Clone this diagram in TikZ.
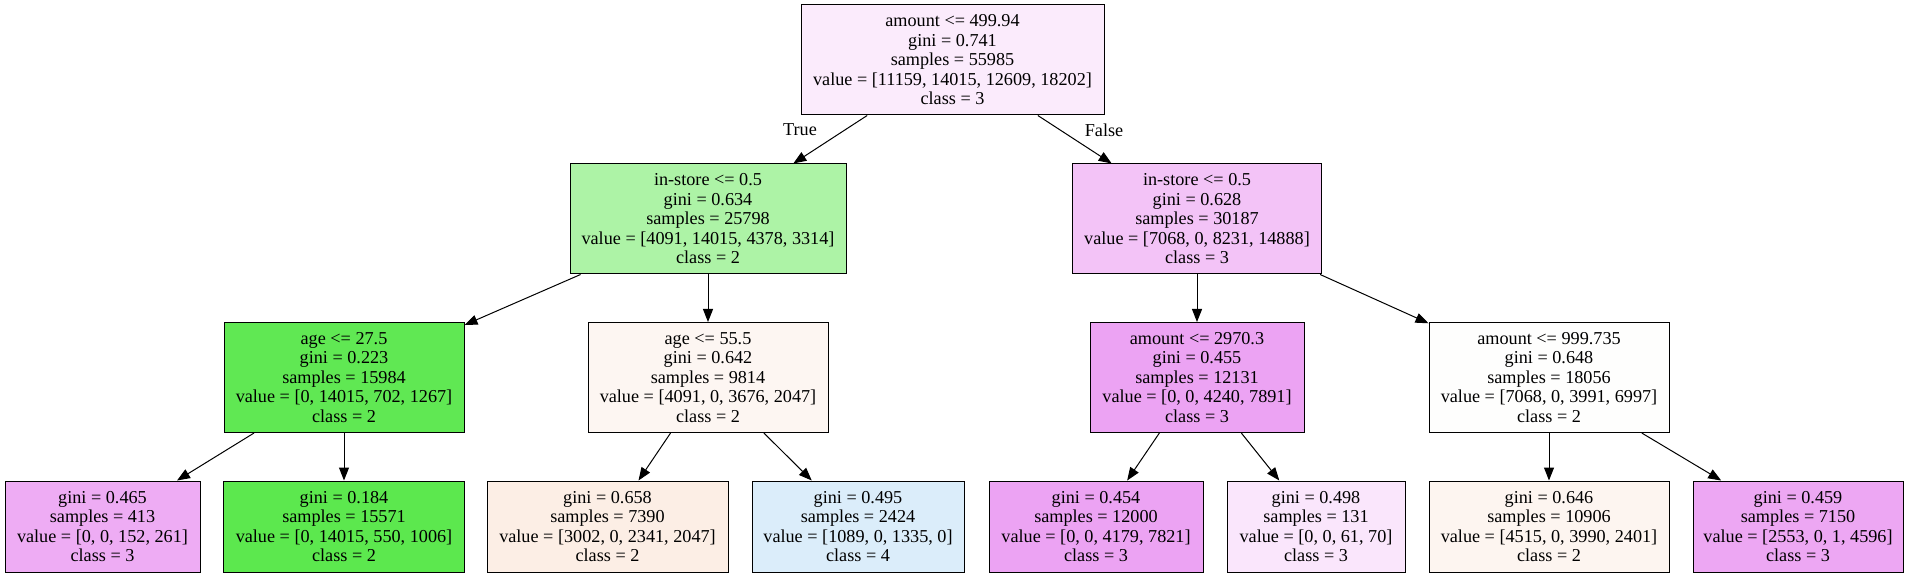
\documentclass[tikz,border=0pt]{standalone}
\usepackage{fontspec}
\setmainfont{Liberation Serif}
\usetikzlibrary{arrows.meta}
\definecolor{fillRoot}{HTML}{FBEBFC}
\definecolor{fillStoreL}{HTML}{ADF3A6}
\definecolor{fillStoreR}{HTML}{F3C3F7}
\definecolor{fillAgeL}{HTML}{60E853}
\definecolor{fillAgeR}{HTML}{FDF6F2}
\definecolor{fillAmtL}{HTML}{ECA3F3}
\definecolor{fillAmtR}{HTML}{FEFEFD}
\definecolor{fillLeafA}{HTML}{EEACF4}
\definecolor{fillLeafB}{HTML}{5CE84E}
\definecolor{fillLeafC}{HTML}{FCEEE5}
\definecolor{fillLeafD}{HTML}{DBEDFA}
\definecolor{fillLeafE}{HTML}{ECA3F3}
\definecolor{fillLeafF}{HTML}{FAE6FC}
\definecolor{fillLeafG}{HTML}{FDF5F0}
\definecolor{fillLeafH}{HTML}{EDA7F3}

\begin{document}
\begin{tikzpicture}[x=0.5pt, y=-0.5pt, font=\fontsize{9.1}{9.75}\selectfont,
  box/.style={draw=black, line width=0.5pt, inner sep=0pt, align=center},
  split/.style={box, minimum height=55pt},
  leaf/.style={box, minimum height=45.5pt},
  edge/.style={-{Triangle[length=6.5pt, width=5pt]}, line width=0.5pt}]
  \useasboundingbox (0,0) rectangle (1912,577);

  % root and first split
  \node[split, fill=fillRoot, minimum width=151.5pt] (root) at (952.5,60)
    {amount <= 499.94\\gini = 0.741\\samples = 55985\\value = [11159, 14015, 12609, 18202]\\class = 3};
  \node[split, fill=fillStoreL, minimum width=138pt] (storeL) at (708,219)
    {in-store <= 0.5\\gini = 0.634\\samples = 25798\\value = [4091, 14015, 4378, 3314]\\class = 2};
  \node[split, fill=fillStoreR, minimum width=124.5pt] (storeR) at (1197,219)
    {in-store <= 0.5\\gini = 0.628\\samples = 30187\\value = [7068, 0, 8231, 14888]\\class = 3};

  % second level splits
  \node[split, fill=fillAgeL, minimum width=120pt] (ageL) at (344,377.5)
    {age <= 27.5\\gini = 0.223\\samples = 15984\\value = [0, 14015, 702, 1267]\\class = 2};
  \node[split, fill=fillAgeR, minimum width=120pt] (ageR) at (708,377.5)
    {age <= 55.5\\gini = 0.642\\samples = 9814\\value = [4091, 0, 3676, 2047]\\class = 2};
  \node[split, fill=fillAmtL, minimum width=107pt] (amtL) at (1197,377.5)
    {amount <= 2970.3\\gini = 0.455\\samples = 12131\\value = [0, 0, 4240, 7891]\\class = 3};
  \node[split, fill=fillAmtR, minimum width=120pt] (amtR) at (1549,377.5)
    {amount <= 999.735\\gini = 0.648\\samples = 18056\\value = [7068, 0, 3991, 6997]\\class = 2};

  % leaves
  \node[leaf, fill=fillLeafA, minimum width=97.5pt] (leafA) at (102.5,526.5)
    {gini = 0.465\\samples = 413\\value = [0, 0, 152, 261]\\class = 3};
  \node[leaf, fill=fillLeafB, minimum width=120.5pt] (leafB) at (344,526.5)
    {gini = 0.184\\samples = 15571\\value = [0, 14015, 550, 1006]\\class = 2};
  \node[leaf, fill=fillLeafC, minimum width=120.5pt] (leafC) at (607.5,526.5)
    {gini = 0.658\\samples = 7390\\value = [3002, 0, 2341, 2047]\\class = 2};
  \node[leaf, fill=fillLeafD, minimum width=106pt] (leafD) at (858,526.5)
    {gini = 0.495\\samples = 2424\\value = [1089, 0, 1335, 0]\\class = 4};
  \node[leaf, fill=fillLeafE, minimum width=107pt] (leafE) at (1096,526.5)
    {gini = 0.454\\samples = 12000\\value = [0, 0, 4179, 7821]\\class = 3};
  \node[leaf, fill=fillLeafF, minimum width=89pt] (leafF) at (1316,526.5)
    {gini = 0.498\\samples = 131\\value = [0, 0, 61, 70]\\class = 3};
  \node[leaf, fill=fillLeafG, minimum width=120pt] (leafG) at (1549,526.5)
    {gini = 0.646\\samples = 10906\\value = [4515, 0, 3990, 2401]\\class = 2};
  \node[leaf, fill=fillLeafH, minimum width=105pt] (leafH) at (1798,526.5)
    {gini = 0.459\\samples = 7150\\value = [2553, 0, 1, 4596]\\class = 3};

  % branch labels
  \node (lblTrue) at (800,130) {True};
  \node (lblFalse) at (1104,130) {False};

  \foreach \a/\b in {root/storeL, root/storeR, storeL/ageL, storeL/ageR,
    storeR/amtL, storeR/amtR, ageL/leafA, ageL/leafB, ageR/leafC, ageR/leafD,
    amtL/leafE, amtL/leafF, amtR/leafG, amtR/leafH}{
    \draw[edge] (\a) -- (\b);
  }
\end{tikzpicture}
\end{document}
